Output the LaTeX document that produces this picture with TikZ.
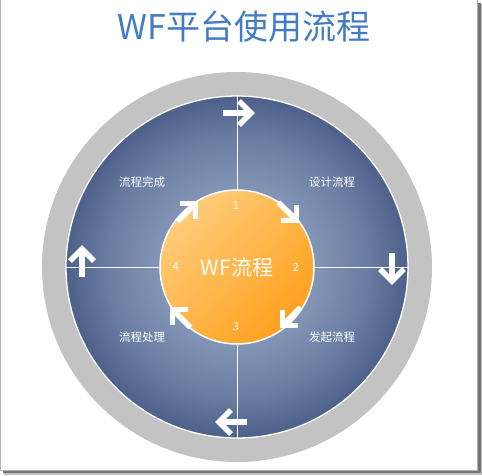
\documentclass[tikz,border=0pt]{standalone}
\usepackage{fontspec}
\setmainfont{Noto Sans CJK SC}
\definecolor{titleblue}{RGB}{66,124,196}
\definecolor{ringgray}{RGB}{195,195,195}
\definecolor{bluec}{RGB}{150,168,198}
\definecolor{bluee}{RGB}{76,96,138}
\definecolor{orlight}{RGB}{255,204,122}
\definecolor{ordark}{RGB}{255,160,30}
\pgfdeclareradialshading{bluering}{\pgfpoint{0bp}{0bp}}{color(0bp)=(bluec); color(10bp)=(bluec!80!bluee); color(19bp)=(bluec!40!bluee); color(25bp)=(bluee); color(50bp)=(bluee)}
\tikzset{
  warrow/.pic={
    \draw[white,line width=5.5pt,line cap=butt] (-15,0) -- (13,0);
    \draw[white,line width=5.5pt,line join=miter,line cap=butt] (1,12) -- (13,0) -- (1,-12);
  },
  lbl/.style={text=white,font=\fontsize{11.5}{12}\selectfont,inner sep=0pt},
  num/.style={text=white,font=\fontsize{11}{12}\selectfont,inner sep=0pt},
  axisline/.style={white,line width=0.8pt}
}
\begin{document}
\begin{tikzpicture}[x=1pt,y=-1pt]
\useasboundingbox (0,0) rectangle (482,475);
% frame with shadow
\fill[black!25] (4,4) rectangle (482,475);
\fill[black!55] (3,3) rectangle (480.5,473);
\fill[white,draw=black!30,line width=1pt] (0.5,-2) rectangle (477.5,470.5);
% title
\node[text=titleblue,font=\fontsize{34}{35}\selectfont,inner sep=0pt] (title) at (244,27) {WF平台使用流程};
\coordinate (c) at (237,267);
% outer ring
\node[circle,fill=ringgray,minimum size=390pt,inner sep=0pt] (ring) at (c) {};
% blue disc
\node[circle,shading=bluering,draw=white,line width=1.3pt,minimum size=342pt,inner sep=0pt] (blue) at (c) {};
\draw[axisline] (blue.north) -- (blue.south);
\draw[axisline] (blue.west) -- (blue.east);
% core
\node[circle,top color=orlight,bottom color=ordark,shading angle=45,draw=white,line width=1.5pt,minimum size=154pt,inner sep=0pt,text=white,font=\fontsize{21}{21}\selectfont] (core) at (c) {WF流程};
% numbers
\node[num] (n1) at (236,206) {1};
\node[num] (n2) at (296,267) {2};
\node[num] (n3) at (236,327) {3};
\node[num] (n4) at (176,267) {4};
% labels
\node[lbl] (l1) at (142,182) {流程完成};
\node[lbl] (l2) at (332,182) {设计流程};
\node[lbl] (l3) at (142,337) {流程处理};
\node[lbl] (l4) at (332,337) {发起流程};
% big arrows
\pic[rotate=0] at (238,113) {warrow};
\pic[rotate=-90] at (392,268) {warrow};
\pic[rotate=180] at (232,422) {warrow};
\pic[rotate=90] at (82,262) {warrow};
% small arrows
\pic[rotate=45,scale=0.9] at (187,212) {warrow};
\pic[rotate=-45,scale=0.9] at (288,212) {warrow};
\pic[rotate=-135,scale=0.9] at (291,317) {warrow};
\pic[rotate=135,scale=0.9] at (181,318) {warrow};
\end{tikzpicture}
\end{document}
